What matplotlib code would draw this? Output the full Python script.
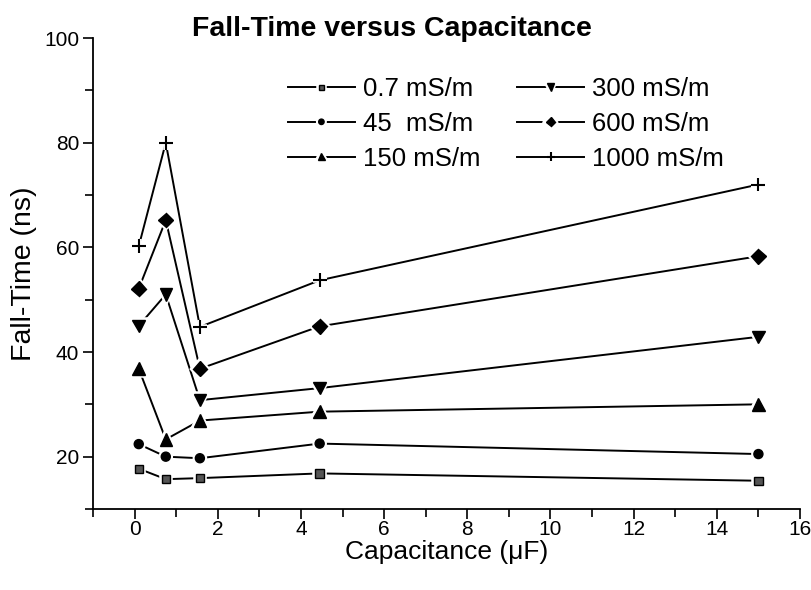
import matplotlib
matplotlib.use("Agg")
import matplotlib.pyplot as plt
import matplotlib.patheffects as pe
from matplotlib.ticker import MultipleLocator
from matplotlib.legend_handler import HandlerTuple

plt.rcParams['font.family'] = ['Liberation Sans', 'DejaVu Sans']

# capacitance (uF)
cap = [0.1, 0.75, 1.57, 4.45, 15]

# fall-time (ns) per conductivity
ft_07 = [17.7, 15.7, 15.9, 16.8, 15.4]
ft_45 = [22.4, 20.0, 19.7, 22.5, 20.5]
ft_150 = [36.8, 23.3, 26.9, 28.6, 30.0]
ft_300 = [45.0, 51.0, 30.8, 33.1, 42.9]
ft_600 = [52.1, 65.2, 36.8, 44.9, 58.3]
ft_1000 = [60.2, 80.0, 44.8, 53.7, 72.0]

labels = ["0.7 mS/m", "45  mS/m", "150 mS/m", "300 mS/m", "600 mS/m", "1000 mS/m"]
series = [ft_07, ft_45, ft_150, ft_300, ft_600, ft_1000]
markers = ['s', 'o', '^', 'v', 'D', '+']
msizes = [6, 6.5, 9, 9, 7.5, 10]

fig = plt.figure(figsize=(8.12, 5.9), dpi=100)
ax = fig.add_axes([93/812, 1-509/590, (800-93)/812, (509-38)/590])

halo = [pe.withStroke(linewidth=4, foreground='white')]
handles = []
for y, m, ms, lab in zip(series, markers, msizes, labels):
    ln, = ax.plot(cap, y, color='black', lw=1.4)
    face = '#555555' if m == 's' else 'black'
    mk, = ax.plot(cap, y, ls='none', marker=m, ms=ms, color='black',
                  mfc=face, mec='black', mew=1.5 if m == '+' else 1.0,
                  path_effects=halo)
    handles.append((ln, mk))

ax.set_xlim(-1, 16)
ax.set_ylim(10, 100)
ax.xaxis.set_major_locator(MultipleLocator(2))
ax.xaxis.set_minor_locator(MultipleLocator(1))
ax.yaxis.set_major_locator(MultipleLocator(20))
ax.yaxis.set_minor_locator(MultipleLocator(10))
ax.spines['top'].set_visible(False)
ax.spines['right'].set_visible(False)
for s in ['left', 'bottom']:
    ax.spines[s].set_linewidth(1.3)
ax.tick_params(which='both', direction='out', width=1.2)
ax.tick_params(which='major', length=7)
ax.tick_params(which='minor', length=6)
ax.tick_params(axis='y', labelsize=15, pad=3)
ax.tick_params(axis='x', labelsize=15, pad=1)

ax.set_xlabel("Capacitance (\u03bcF)", fontsize=19, labelpad=1)
ax.set_ylabel("Fall-Time (ns)", fontsize=20.5, labelpad=5)
fig.text(392/812, 1-29/590, "Fall-Time versus Capacitance", fontsize=20.5,
         fontweight='bold', ha='center', va='center')

ax.legend(handles, labels, handler_map={tuple: HandlerTuple(ndivide=1)},
          ncol=2, frameon=False, fontsize=18.5, markerscale=0.6,
          handlelength=2.6, handletextpad=0.3, columnspacing=1.45,
          labelspacing=0.42, loc='upper left', borderaxespad=0, borderpad=0,
          bbox_to_anchor=(288/812, 1-77/590), bbox_transform=fig.transFigure)

fig.savefig("out.png", dpi=100)
